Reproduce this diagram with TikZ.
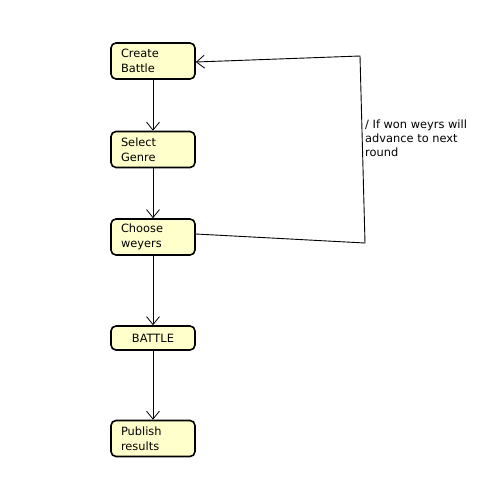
\documentclass[tikz,border=0pt]{standalone}
\usepackage{fontspec}
\setmainfont{DejaVu Sans}
\usetikzlibrary{arrows.meta}
\definecolor{boxfill}{RGB}{255,255,204}
\tikzset{
  state/.style={draw=black, line width=1.6pt, fill=boxfill, rounded corners=5pt,
    minimum width=84pt, inner sep=0pt, font=\fontsize{11.4}{14.5}\selectfont},
  twoline/.style={state, minimum height=36pt, text width=64pt, align=left},
  oneline/.style={state, minimum height=24pt, align=center},
  arr/.style={draw=black, line width=0.9pt, -{Straight Barb[length=8pt,width=13pt,line width=0.8pt]}},
  lbl/.style={font=\fontsize{11.4}{14}\selectfont, align=left, inner sep=0pt}
}
\begin{document}
\begin{tikzpicture}[x=1pt,y=-1pt]
\useasboundingbox (0,0) rectangle (493,483);
\node[twoline] (cb) at (153,61) {Create\\Battle};
\node[twoline] (sg) at (153,149.5) {Select\\Genre};
\node[twoline] (cw) at (153,237) {Choose\\weyers};
\node[oneline] (bt) at (153,338) {BATTLE};
\node[twoline] (pr) at (153,438.5) {Publish\\results};
\draw[arr] (cb) -- (sg);
\draw[arr] (sg) -- (cw);
\draw[arr] (cw) -- (bt);
\draw[arr] (bt) -- (pr);
\coordinate (p1) at (365,243);
\coordinate (p2) at (360,56);
\draw[arr] ([yshift=3pt]cw.east) -- (p1) -- (p2) -- ([yshift=-1pt]cb.east);
\node[lbl, anchor=north west] (lab) at (365,120) {/ If won weyrs will\\advance to next\\round};
\end{tikzpicture}
\end{document}
